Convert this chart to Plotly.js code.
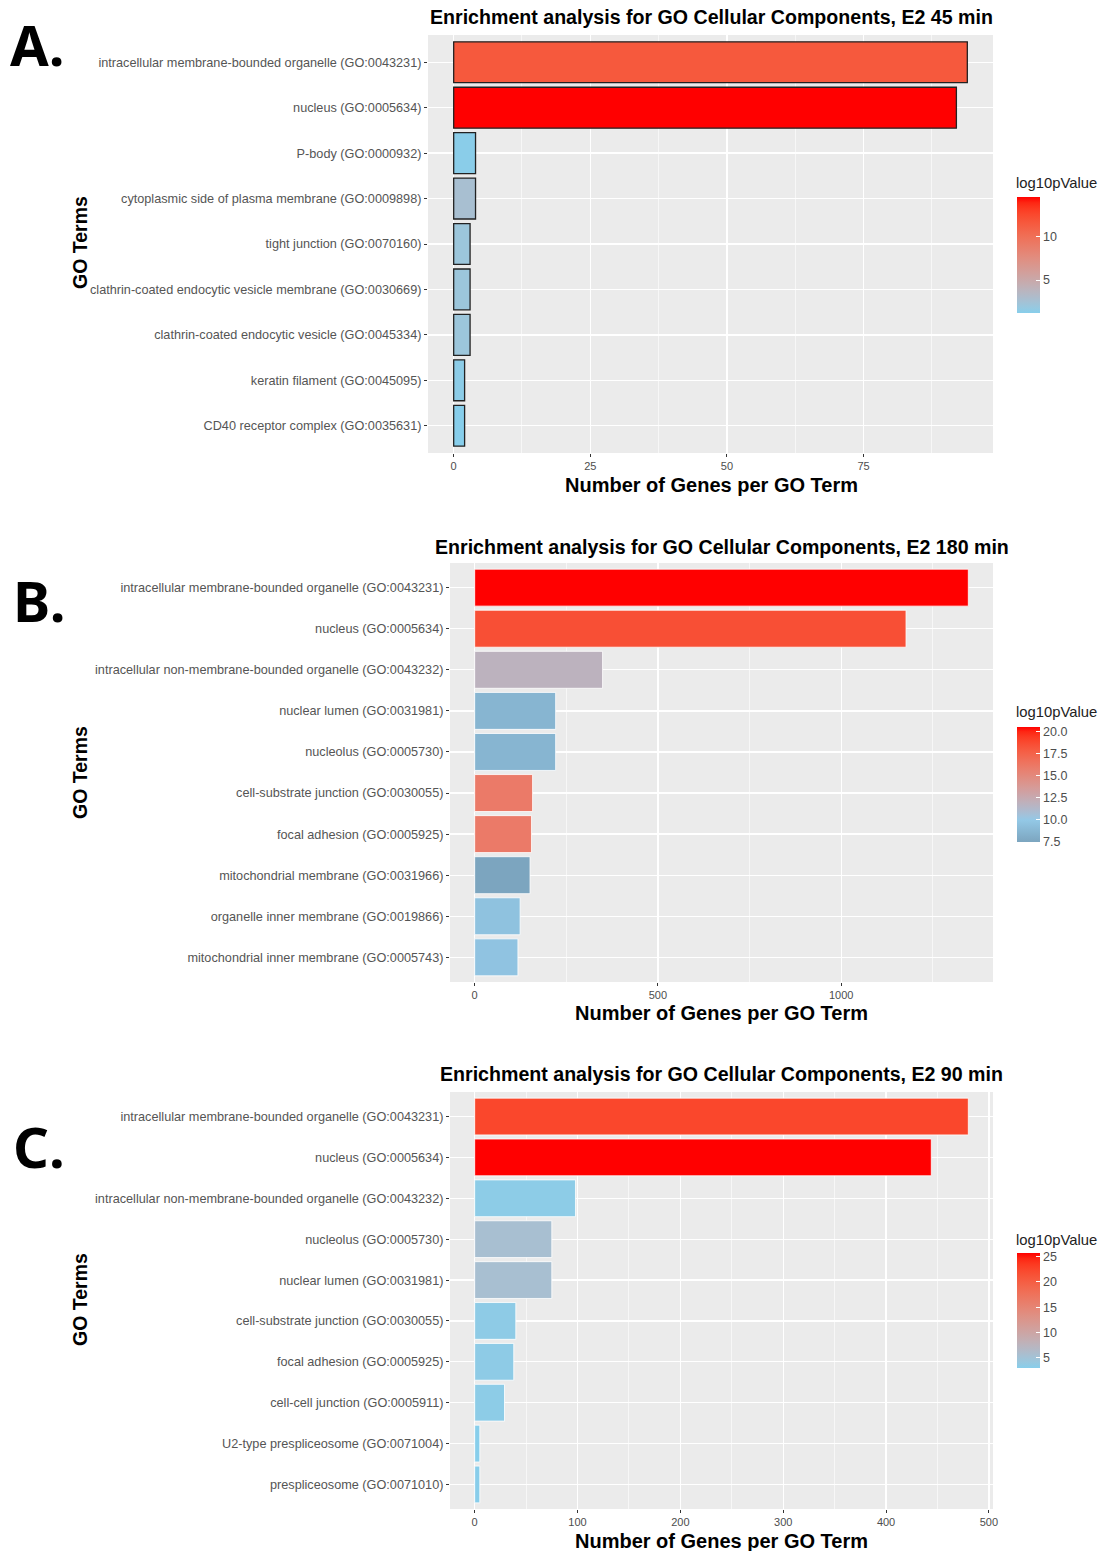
<!DOCTYPE html>
<html>
<head>
<meta charset="utf-8">
<script src="https://cdn.plot.ly/plotly-3.0.1.min.js"></script>
<style>html,body{margin:0;padding:0;background:#fff;}#chart{width:1098px;height:1551px;}</style>
</head>
<body>
<div id="chart"></div>
<script>
// ---------------- DATA ----------------
const termsA = [
  "intracellular membrane-bounded organelle (GO:0043231)",
  "nucleus (GO:0005634)",
  "P-body (GO:0000932)",
  "cytoplasmic side of plasma membrane (GO:0009898)",
  "tight junction (GO:0070160)",
  "clathrin-coated endocytic vesicle membrane (GO:0030669)",
  "clathrin-coated endocytic vesicle (GO:0045334)",
  "keratin filament (GO:0045095)",
  "CD40 receptor complex (GO:0035631)"
];
const countsA = [94, 92, 4, 4, 3, 3, 3, 2, 2];
const log10pA = [11.6, 14.6, 1.3, 2.7, 2.1, 2.1, 2.1, 1.4, 1.2];
const ticksA = [0, 25, 50, 75];
const cbTicksA = [5, 10];

const termsB = [
  "intracellular membrane-bounded organelle (GO:0043231)",
  "nucleus (GO:0005634)",
  "intracellular non-membrane-bounded organelle (GO:0043232)",
  "nuclear lumen (GO:0031981)",
  "nucleolus (GO:0005730)",
  "cell-substrate junction (GO:0030055)",
  "focal adhesion (GO:0005925)",
  "mitochondrial membrane (GO:0031966)",
  "organelle inner membrane (GO:0019866)",
  "mitochondrial inner membrane (GO:0005743)"
];
const countsB = [1347, 1177, 349, 221, 221, 158, 155, 151, 124, 118];
const log10pB = [20.5, 18.5, 11.8, 8.6, 8.6, 16.0, 16.0, 7.45, 9.5, 9.6];
const ticksB = [0, 500, 1000];
const cbTicksB = [7.5, 10.0, 12.5, 15.0, 17.5, 20.0];

const termsC = [
  "intracellular membrane-bounded organelle (GO:0043231)",
  "nucleus (GO:0005634)",
  "intracellular non-membrane-bounded organelle (GO:0043232)",
  "nucleolus (GO:0005730)",
  "nuclear lumen (GO:0031981)",
  "cell-substrate junction (GO:0030055)",
  "focal adhesion (GO:0005925)",
  "cell-cell junction (GO:0005911)",
  "U2-type prespliceosome (GO:0071004)",
  "prespliceosome (GO:0071010)"
];
const countsC = [480, 444, 98, 75, 75, 40, 38, 29, 5, 5];
const log10pC = [22.4, 25.7, 3.4, 5.6, 5.6, 3.5, 3.5, 3.4, 3.0, 3.1];
const ticksC = [0, 100, 200, 300, 400, 500];
const cbTicksC = [5, 10, 15, 20, 25];

const panelTitles = [
  "Enrichment analysis for GO Cellular Components, E2 45 min",
  "Enrichment analysis for GO Cellular Components, E2 180 min",
  "Enrichment analysis for GO Cellular Components, E2 90 min"
];
const panelLetters = ["A.", "B.", "C."];
const xTitle = "Number of Genes per GO Term";
const yTitle = "GO Terms";
const legendTitle = "log10pValue";

// ---------------- COLOUR HELPERS (Lab interpolation like ggplot) ----------------
function hex2rgb(h){h=h.replace('#','');return [0,2,4].map(i=>parseInt(h.substr(i,2),16));}
function lin(c){c/=255;return c<=0.04045?c/12.92:Math.pow((c+0.055)/1.055,2.4);}
function unlin(c){c=c<=0.0031308?12.92*c:1.055*Math.pow(c,1/2.4)-0.055;return Math.max(0,Math.min(255,Math.round(c*255)));}
const Xn=0.95047,Yn=1,Zn=1.08883;
function f(t){return t>0.008856?Math.cbrt(t):7.787*t+16/116;}
function finv(t){return t>0.206893?t*t*t:(t-16/116)/7.787;}
function rgb2lab(rgb){const [r,g,b]=rgb.map(lin);
  const X=r*0.4124+g*0.3576+b*0.1805,Y=r*0.2126+g*0.7152+b*0.0722,Z=r*0.0193+g*0.1192+b*0.9505;
  const fx=f(X/Xn),fy=f(Y/Yn),fz=f(Z/Zn);return [116*fy-16,500*(fx-fy),200*(fy-fz)];}
function lab2rgb(lab){const fy=(lab[0]+16)/116,fx=fy+lab[1]/500,fz=fy-lab[2]/200;
  const X=Xn*finv(fx),Y=Yn*finv(fy),Z=Zn*finv(fz);
  const r=3.2406*X-1.5372*Y-0.4986*Z,g=-0.9689*X+1.8758*Y+0.0415*Z,b=0.0557*X-0.2040*Y+1.0570*Z;
  return 'rgb('+unlin(r)+','+unlin(g)+','+unlin(b)+')';}
function labScale(c1,c2,p0,p1,n){const a=rgb2lab(hex2rgb(c1)),b=rgb2lab(hex2rgb(c2));const out=[];
  for(let i=0;i<=n;i++){const t=i/n;out.push([p0+(p1-p0)*t,lab2rgb([0,1,2].map(k=>a[k]+(b[k]-a[k])*t))]);}return out;}
const scaleAC = labScale('#87CEEB','#FF0000',0,1,20);
const scaleB = [[0,'#7CA5BF']].concat(labScale('#93C8E6','#FF0000',0.19,1,20));

// ---------------- LAYOUT HELPERS ----------------
const W=1098,H=1551;
const px=x=>x/W, py=y=>1-y/H;
const panels=[
  {terms:termsA,counts:countsA,logp:log10pA,ticks:ticksA,cb:cbTicksA,cbfmt:'',scale:scaleAC,
   left:428,right:993,top:35,bottom:453,line:{color:'#222',width:1.3},minor:12.5,
   titleX:711,titleY:17,xTitleX:711,xTitleY:485,yTitleY:243,letterX:8,letterY:44,cbTop:197,cbBot:313,legY:183},
  {terms:termsB,counts:countsB,logp:log10pB,ticks:ticksB,cb:cbTicksB,cbfmt:'.1f',scale:scaleB,
   left:450,right:993,top:563,bottom:982,line:{color:'#ffffff',width:0.8},minor:250,
   titleX:721.5,titleY:547,xTitleX:721,xTitleY:1013,yTitleY:773,letterX:11,letterY:600,cbTop:727,cbBot:842,legY:712},
  {terms:termsC,counts:countsC,logp:log10pC,ticks:ticksC,cb:cbTicksC,cbfmt:'',scale:scaleAC,
   left:450,right:993,top:1092,bottom:1509,line:{color:'#ffffff',width:0.8},minor:50,
   titleX:721.5,titleY:1074,xTitleX:721,xTitleY:1541,yTitleY:1300,letterX:11,letterY:1146,cbTop:1253,cbBot:1368,legY:1240}
];

const data=[];
const layout={width:W,height:H,margin:{l:0,r:0,t:0,b:0},paper_bgcolor:'#fff',plot_bgcolor:'#EBEBEB',
  bargap:0.1,showlegend:false,annotations:[],font:{family:'Liberation Sans, Arial, sans-serif'}};

panels.forEach((p,i)=>{
  const s=i===0?'':String(i+1);
  const maxC=Math.max(...p.counts);
  const exp=maxC*0.05;
  data.push({type:'bar',orientation:'h',x:p.counts,y:p.terms,xaxis:'x'+s,yaxis:'y'+s,
    marker:{color:p.logp,coloraxis:'coloraxis'+s,line:p.line},hoverinfo:'x+y'});
  const n=p.terms.length;
  layout['xaxis'+s]={domain:[px(p.left),px(p.right)],anchor:'y'+s,range:[-exp,maxC+exp],
    tickvals:p.ticks,ticks:'outside',ticklen:3,tickcolor:'#333',tickwidth:1,
    showgrid:true,gridcolor:'#ffffff',gridwidth:1.3,zeroline:false,showline:false,
    minor:{dtick:p.minor,tick0:0,showgrid:true,gridcolor:'#ffffff',gridwidth:0.6,ticks:''},
    tickfont:{size:11,color:'#4D4D4D'},fixedrange:true};
  layout['yaxis'+s]={domain:[py(p.bottom),py(p.top)],anchor:'x'+s,type:'category',
    categoryorder:'array',categoryarray:p.terms,range:[n-0.4,-0.6],
    ticks:'outside',ticklen:3,tickcolor:'#333',tickwidth:1,
    showgrid:true,gridcolor:'#ffffff',gridwidth:1.3,zeroline:false,showline:false,
    tickfont:{size:12.7,color:'#555555'},fixedrange:true};
  const mn=Math.min(...p.logp),mx=Math.max(...p.logp);
  layout['coloraxis'+s]={cmin:mn,cmax:mx,colorscale:p.scale,
    colorbar:{x:px(1017),xanchor:'left',xpad:0,y:py(p.cbTop),yanchor:'top',ypad:0,
      len:p.cbBot-p.cbTop,lenmode:'pixels',thickness:23,thicknessmode:'pixels',outlinewidth:0,
      ticks:'inside',ticklen:4,tickcolor:'#ffffff',tickvals:p.cb,tickformat:p.cbfmt,
      tickfont:{size:12.5,color:'#4D4D4D'},title:{text:''}}};
  layout.annotations.push(
    {text:'<b>'+panelTitles[i]+'</b>',xref:'paper',yref:'paper',x:px(p.titleX),y:py(p.titleY),
     xanchor:'center',yanchor:'middle',showarrow:false,font:{size:19.6,color:'#000'}},
    {text:'<b>'+xTitle+'</b>',xref:'paper',yref:'paper',x:px(p.xTitleX),y:py(p.xTitleY),
     xanchor:'center',yanchor:'middle',showarrow:false,font:{size:20,color:'#000'}},
    {text:'<b>'+yTitle+'</b>',xref:'paper',yref:'paper',x:px(80),y:py(p.yTitleY),textangle:-90,
     xanchor:'center',yanchor:'middle',showarrow:false,font:{size:19.5,color:'#000'}},
    {text:'<b>'+panelLetters[i]+'</b>',xref:'paper',yref:'paper',x:px(p.letterX),y:py(p.letterY),
     xanchor:'left',yanchor:'middle',showarrow:false,font:{size:56,color:'#000',family:'Noto Sans, sans-serif'}},
    {text:legendTitle,xref:'paper',yref:'paper',x:px(1014),y:py(p.legY),
     xanchor:'left',yanchor:'middle',showarrow:false,font:{size:14.8,color:'#222'}}
  );
});

Plotly.newPlot('chart',data,layout,{displayModeBar:false,staticPlot:true});
</script>
</body>
</html>
